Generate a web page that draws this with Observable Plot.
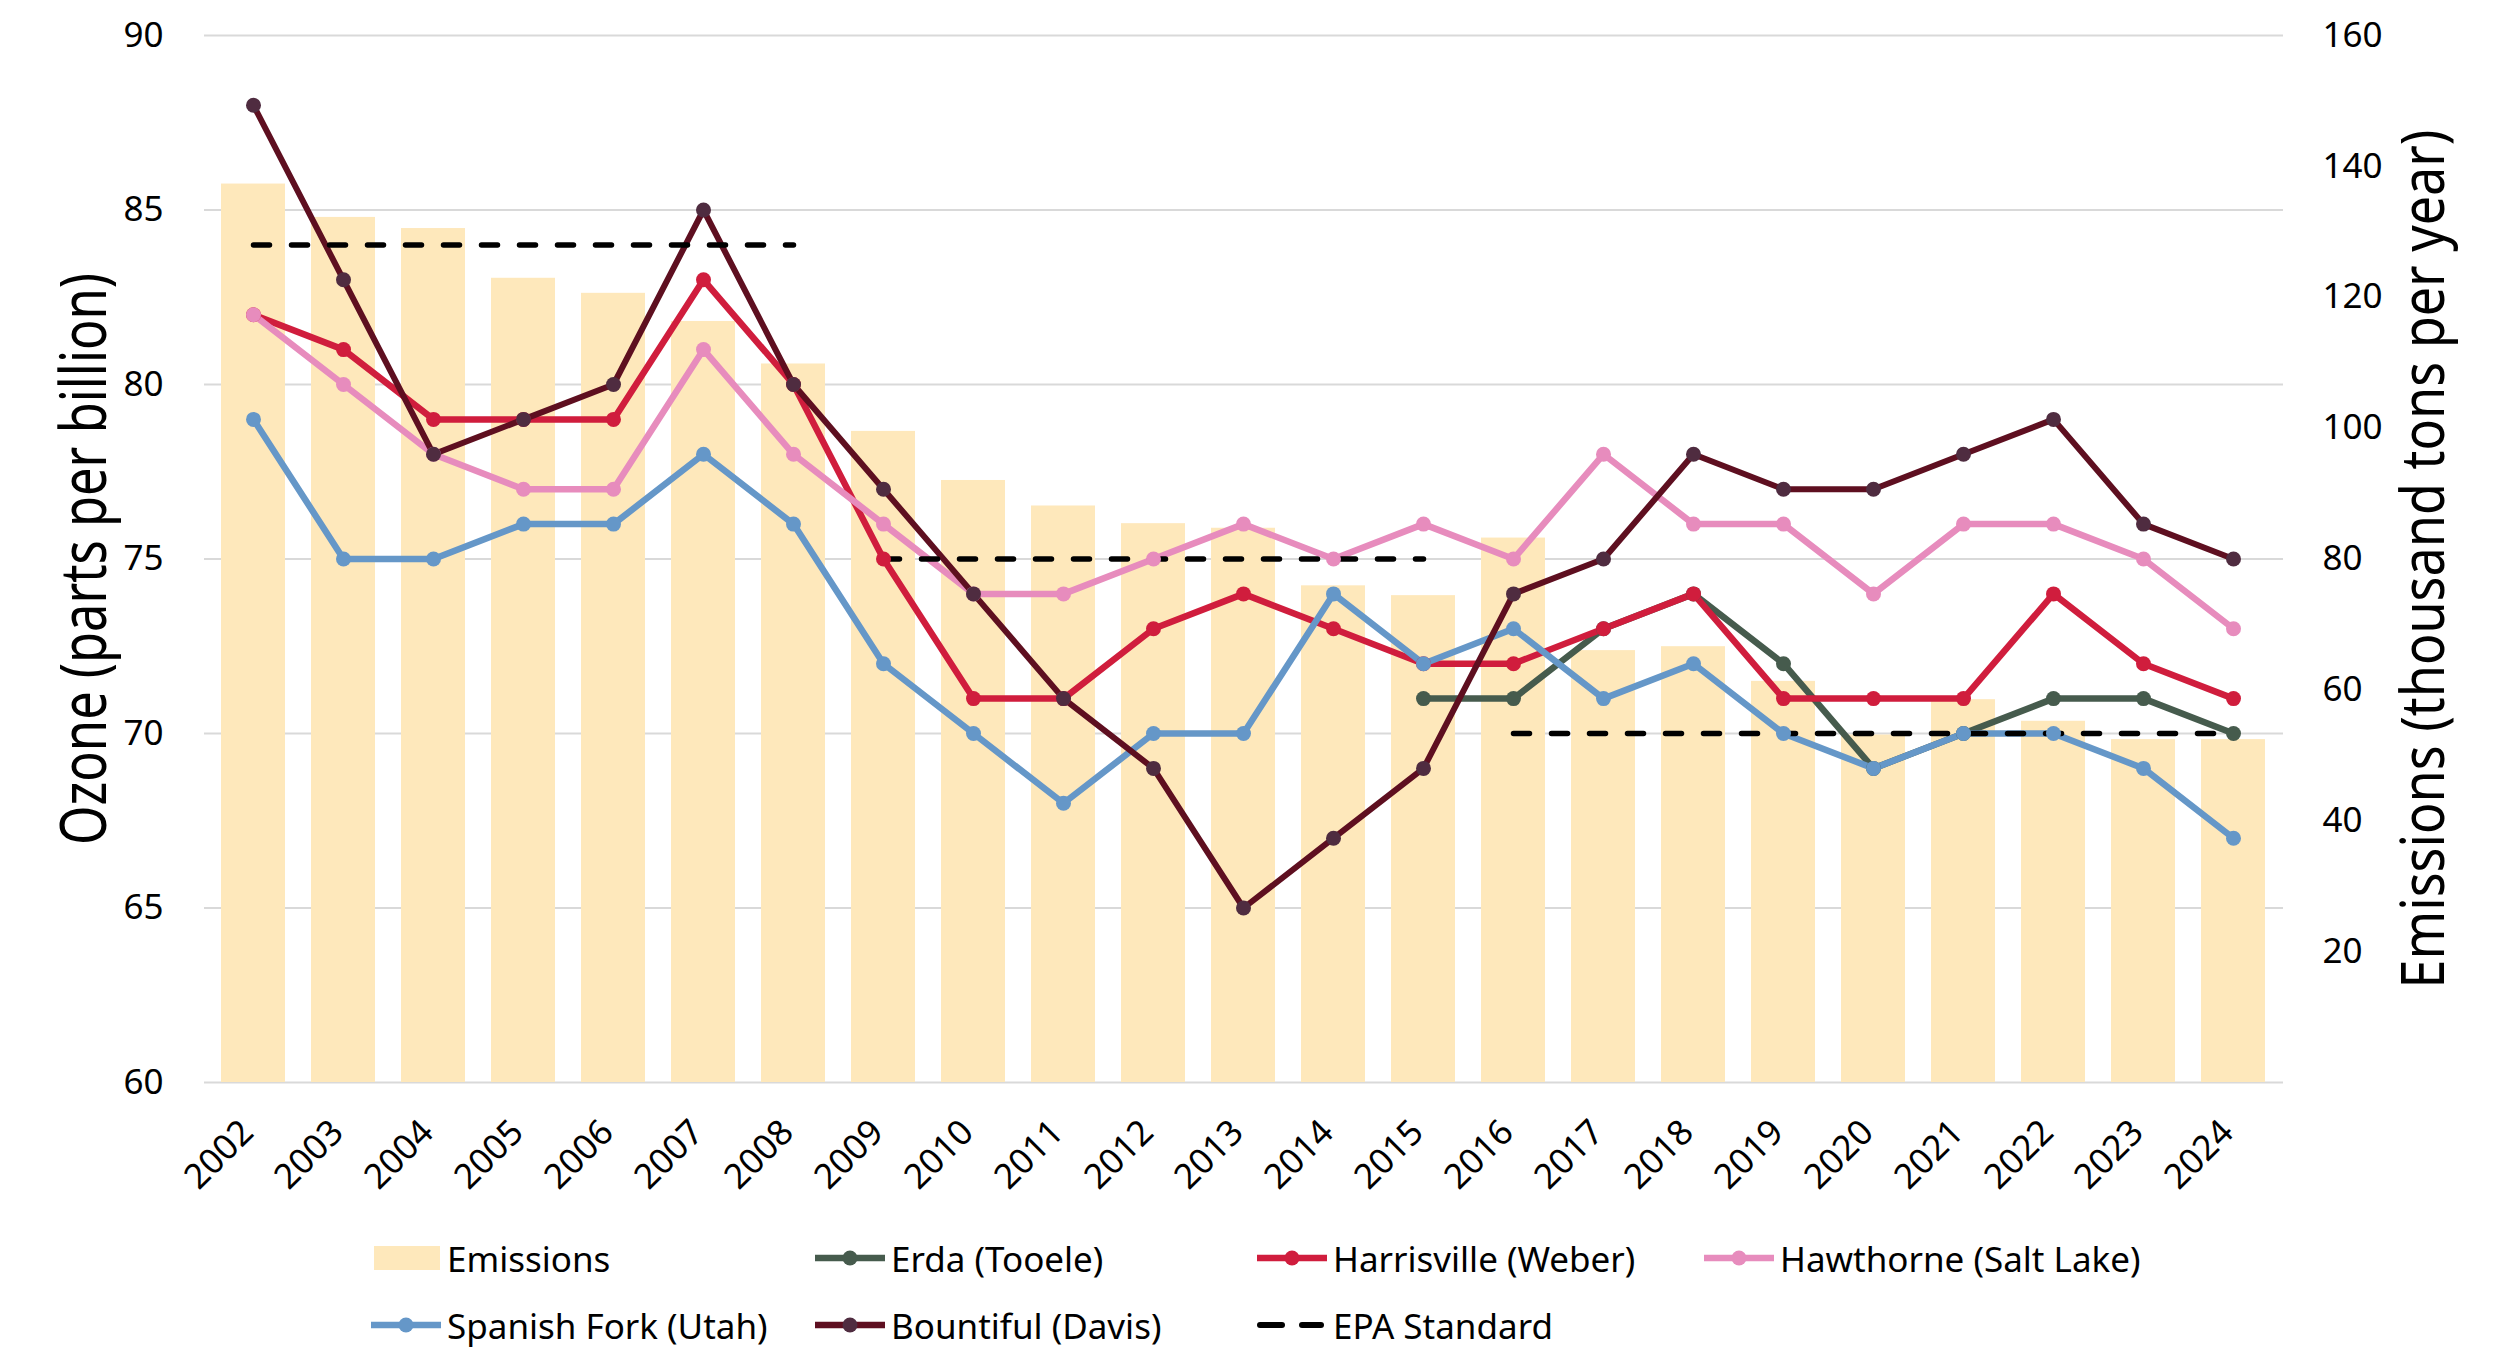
<!DOCTYPE html>
<html><head><meta charset="utf-8">
<script src="https://cdn.jsdelivr.net/npm/d3@7"></script>
<script src="https://cdn.jsdelivr.net/npm/@observablehq/plot@0.6"></script>
<style>
html,body{margin:0;padding:0;background:#fff;font-family:"Noto Sans",sans-serif;}
#legend{position:relative;height:182px;width:2500px;}
.item{position:absolute;display:flex;align-items:center;height:44px;font-size:35px;color:#000;white-space:nowrap;}
.item svg{margin-right:6px;}
</style></head>
<body>
<div id="chart"></div>
<div id="legend"></div>
<script>
// ---- data ----
const years = [2002,2003,2004,2005,2006,2007,2008,2009,2010,2011,2012,2013,2014,2015,2016,2017,2018,2019,2020,2021,2022,2023,2024];
const emissions = [137.3,132.2,130.5,122.9,120.6,116.3,109.8,99.5,92.0,88.1,85.4,84.7,75.9,74.4,83.2,66.0,66.6,61.3,53.1,58.5,55.2,52.4,52.4];
const erda =        [null,null,null,null,null,null,null,null,null,null,null,null,null,71,71,73,74,72,69,70,71,71,70];
const harrisville = [82,81,79,79,79,83,80,75,71,71,73,74,73,72,72,73,74,71,71,71,74,72,71];
const hawthorne =   [82,80,78,77,77,81,78,76,74,74,75,76,75,76,75,78,76,76,74,76,76,75,73];
const spanishFork = [79,75,75,76,76,78,76,72,70,68,70,70,74,72,73,71,72,70,69,70,70,69,67];
const bountiful =   [88,83,78,79,80,85,80,77,74,71,69,65,67,69,74,75,78,77,77,78,79,76,75];
const epaStandard = [84,84,84,84,84,84,84,75,75,75,75,75,75,75,70,70,70,70,70,70,70,70,70];
const ozoneTicks = [60,65,70,75,80,85,90];
const emissionTicks = [20,40,60,80,100,120,140,160];
const seriesNames = ["Erda (Tooele)","Harrisville (Weber)","Hawthorne (Salt Lake)","Spanish Fork (Utah)","Bountiful (Davis)"];
const seriesValues = [erda, harrisville, hawthorne, spanishFork, bountiful];
const lineColors = ["#465b4d","#d01d3d","#e78cbd","#6597c8","#5e0f20"];
const dotColors  = ["#465b4d","#d01d3d","#e78cbd","#6597c8","#4f2c40"];
const lineWidths = [6.5,6.5,6.5,6.5,6];
const barColor = "#fee8bb";
const leftTitle = "Ozone (parts per billion)";
const rightTitle = "Emissions (thousand tons per year)";

// ---- helpers ----
const toOz = e => 60 + e * 30 / 160;
const fromOz = o => (o - 60) * 160 / 30;
const yr = years.map(String);
const barData = years.map((y,i)=>({year:String(y), em:emissions[i]}));
const series = seriesNames.map((name,k)=>({
  name, color: lineColors[k], dot: dotColors[k], w: lineWidths[k],
  data: years.map((y,i)=>({year:String(y), v:seriesValues[k][i]})).filter(d=>d.v!=null)
}));
const epaData = years.map((y,i)=>({year:String(y), v:epaStandard[i]}));

const marks = [
  Plot.gridY(ozoneTicks, {stroke:"#d9d9d9", strokeOpacity:1, strokeWidth:2}),
  Plot.barY(barData, {x:"year", y1:60, y2:d=>toOz(d.em), fill:barColor}),
  ...series.map(s=>Plot.line(s.data, {x:"year", y:"v", stroke:s.color, strokeWidth:s.w})),
  Plot.line(epaData, {x:"year", y:"v", z:"v", stroke:"#000", strokeWidth:5.5, strokeDasharray:"16,22", strokeLinecap:"round"}),
  ...series.map(s=>Plot.dot(s.data, {x:"year", y:"v", r:7.5, fill:s.dot, stroke:"none"})),
  Plot.axisY(ozoneTicks, {anchor:"left", tickSize:0, tickPadding:41, fontSize:35, label:null}),
  Plot.axisY(emissionTicks.map(toOz), {anchor:"right", tickSize:0, tickPadding:39, fontSize:35, label:null, tickFormat:d=>String(Math.round(fromOz(d)))}),
  Plot.axisX({tickRotate:-45, tickSize:0, tickPadding:44, dx:-6, fontSize:35, label:null}),
  Plot.text([leftTitle], {text:d=>d, frameAnchor:"left", dx:-119, rotate:-90, fontSize:64, textAnchor:"middle", lineAnchor:"middle"}),
  Plot.text([rightTitle], {text:d=>d, frameAnchor:"right", dx:141, rotate:-90, fontSize:60, textAnchor:"middle", lineAnchor:"middle"})
];

const chart = Plot.plot({
  width:2500, height:1190,
  marginTop:35, marginBottom:108, marginLeft:204, marginRight:217,
  style:{fontFamily:'"Noto Sans", sans-serif', color:"#000", background:"#fff", overflow:"visible"},
  x:{type:"band", domain:yr, paddingInner:0.285, paddingOuter:0.14},
  y:{domain:[60,90]},
  marks
});
// condense the axis titles to the reference's narrow letterforms
chart.querySelectorAll("text").forEach(t=>{
  if (t.textContent === leftTitle) { t.setAttribute("textLength", 572); t.setAttribute("lengthAdjust","spacingAndGlyphs"); }
  if (t.textContent === rightTitle) { t.setAttribute("textLength", 859); t.setAttribute("lengthAdjust","spacingAndGlyphs"); }
});
document.getElementById("chart").appendChild(chart);

// ---- legend ----
const legend = document.getElementById("legend");
const items = [
  {label:"Emissions", kind:"bar", x:371, row:0},
  {label:seriesNames[0], kind:"line", k:0, x:815, row:0},
  {label:seriesNames[1], kind:"line", k:1, x:1257, row:0},
  {label:seriesNames[2], kind:"line", k:2, x:1704, row:0},
  {label:seriesNames[3], kind:"line", k:3, x:371, row:1},
  {label:seriesNames[4], kind:"line", k:4, x:815, row:1},
  {label:"EPA Standard", kind:"dash", x:1257, row:1}
];
const rowY = [68, 135];
for (const it of items) {
  const div = document.createElement("div");
  div.className = "item";
  div.style.left = it.x + "px";
  div.style.top = (rowY[it.row] - 22) + "px";
  let sw;
  if (it.kind === "bar") sw = `<svg width="70" height="44"><rect x="3" y="10" width="66" height="24" fill="${barColor}"/></svg>`;
  else if (it.kind === "line") sw = `<svg width="70" height="44"><line x1="0" x2="70" y1="22" y2="22" stroke="${lineColors[it.k]}" stroke-width="6.5"/><circle cx="35" cy="22" r="7.5" fill="${dotColors[it.k]}"/></svg>`;
  else sw = `<svg width="70" height="44"><line x1="3" x2="25" y1="22" y2="22" stroke="#000" stroke-width="6" stroke-linecap="round"/><line x1="45" x2="64" y1="22" y2="22" stroke="#000" stroke-width="6" stroke-linecap="round"/></svg>`;
  div.innerHTML = sw + `<span>${it.label}</span>`;
  legend.appendChild(div);
}
</script>
</body></html>
